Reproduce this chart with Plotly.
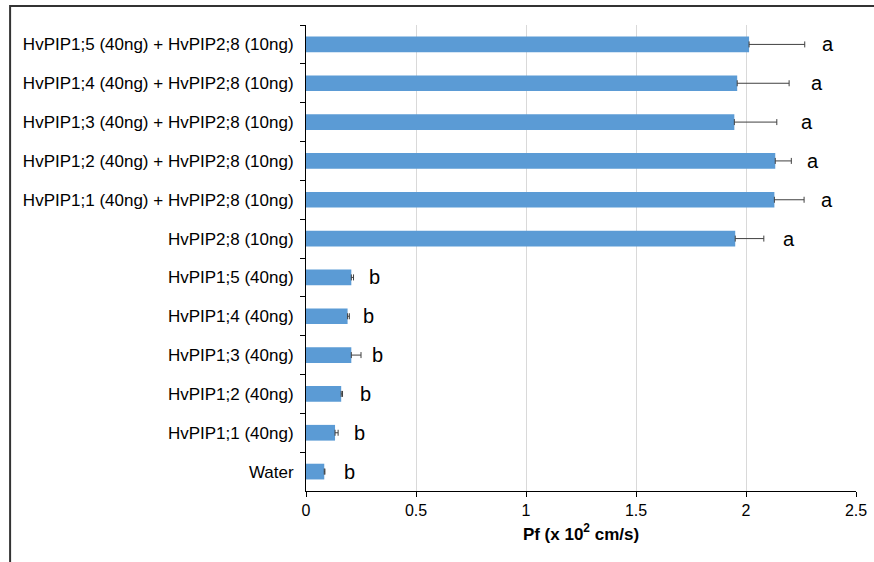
import plotly.graph_objects as go

# Water permeability (Pf) of oocytes injected with barley aquaporin cRNAs
categories = [
    "HvPIP1;5 (40ng) + HvPIP2;8 (10ng)",
    "HvPIP1;4 (40ng) + HvPIP2;8 (10ng)",
    "HvPIP1;3 (40ng) + HvPIP2;8 (10ng)",
    "HvPIP1;2 (40ng) + HvPIP2;8 (10ng)",
    "HvPIP1;1 (40ng) + HvPIP2;8 (10ng)",
    "HvPIP2;8 (10ng)",
    "HvPIP1;5 (40ng)",
    "HvPIP1;4 (40ng)",
    "HvPIP1;3 (40ng)",
    "HvPIP1;2 (40ng)",
    "HvPIP1;1 (40ng)",
    "Water",
]
pf_mean = [2.014, 1.96, 1.947, 2.133, 2.129, 1.951, 0.206, 0.189, 0.206, 0.16, 0.132, 0.083]
pf_err = [0.253, 0.236, 0.193, 0.073, 0.135, 0.13, 0.01, 0.008, 0.044, 0.006, 0.014, 0.003]

# Significance groups and where each letter sits along the Pf axis
groups = ["a", "a", "a", "a", "a", "a", "b", "b", "b", "b", "b", "b"]
group_x = [2.374, 2.323, 2.277, 2.303, 2.37, 2.197, 0.312, 0.286, 0.325, 0.27, 0.243, 0.197]

x_ticks = [0, 0.5, 1, 1.5, 2, 2.5]
x_tick_text = ["0", "0.5", "1", "1.5", "2", "2.5"]

FONT = "Liberation Sans, Arial, sans-serif"

fig = go.Figure()
fig.add_trace(go.Bar(
    x=pf_mean,
    y=categories,
    orientation="h",
    marker=dict(color="#5B9BD5", line=dict(width=0)),
    error_x=dict(type="data", symmetric=False, array=pf_err,
                 arrayminus=[0] * len(pf_err),
                 color="#404040", thickness=1, width=3),
    hoverinfo="x+y",
))

for cat, letter, gx in zip(categories, groups, group_x):
    fig.add_annotation(
        x=gx, y=cat, text=letter, showarrow=False,
        font=dict(family=FONT, size=20, color="#000000"),
        xanchor="center", yanchor="middle",
    )

# Outer frame around the figure
fig.add_shape(
    type="rect", xref="paper", yref="paper",
    x0=-0.538, x1=1.06, y0=-0.2, y1=1.0408,
    line=dict(color="#333333", width=2), fillcolor="rgba(0,0,0,0)", layer="above",
)

fig.update_layout(
    width=874, height=562,
    margin=dict(l=306, r=18, t=25, b=71),
    paper_bgcolor="white", plot_bgcolor="white",
    bargap=0.595,
    showlegend=False,
    font=dict(family=FONT, size=17, color="#000000"),
    xaxis=dict(
        range=[0, 2.5],
        automargin=False,
        ticklabeloverflow="allow",
        tickvals=x_ticks, ticktext=x_tick_text,
        showgrid=True, gridcolor="#D9D9D9", gridwidth=1,
        zeroline=False,
        showline=True, linecolor="#000000", linewidth=1,
        ticks="outside", ticklen=5, tickcolor="#000000",
        tickfont=dict(family=FONT, size=16, color="#000000"),
        title=dict(text="<b>Pf (x 10<sup>2</sup> cm/s)</b>",
                   font=dict(family=FONT, size=17, color="#000000"), standoff=9),
    ),
    yaxis=dict(
        autorange="reversed",
        automargin=False,
        showgrid=False, zeroline=False,
        showline=True, linecolor="#000000", linewidth=1,
        ticks="outside", ticklen=5, tickcolor="#000000", tickson="boundaries",
        tickfont=dict(family=FONT, size=17, color="#000000"),
        ticklabelstandoff=8,
    ),
)

fig.write_html("out.html")
